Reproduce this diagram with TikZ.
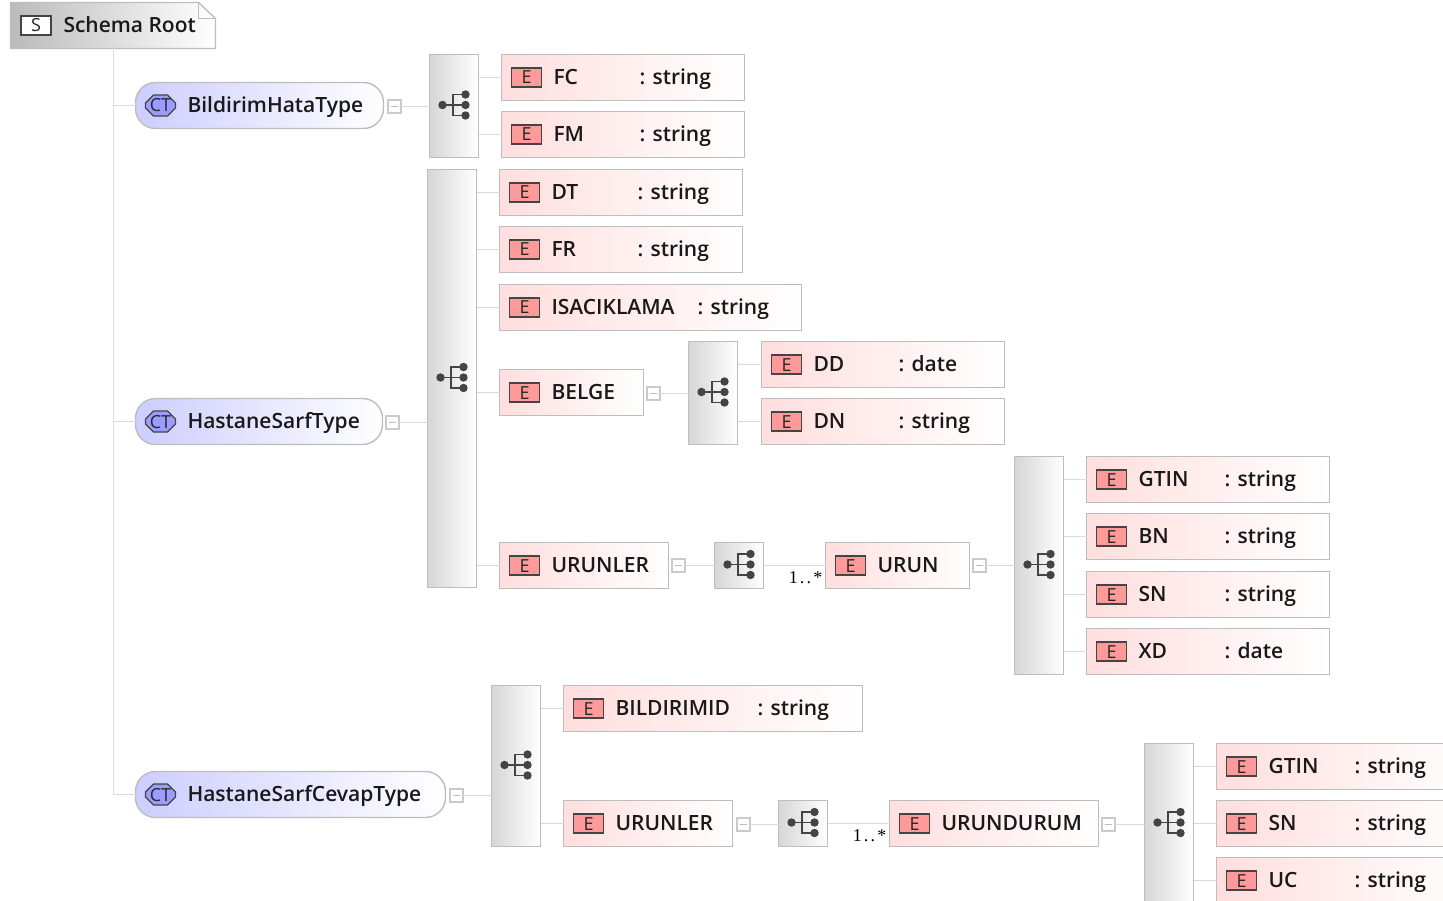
\documentclass[tikz,border=0pt]{standalone}
\usepackage{fontspec}
\setmainfont{Open Sans Semibold}
\usetikzlibrary{shapes.misc}
\definecolor{boxline}{HTML}{BDBDBD}
\definecolor{linkline}{HTML}{DADADA}
\definecolor{elemfill}{HTML}{FFDEDE}
\definecolor{elemicon}{HTML}{FF9A9A}
\definecolor{ctfill}{HTML}{CDCDFF}
\definecolor{cticon}{HTML}{9C9CFF}
\definecolor{seqfill}{HTML}{D6D6D6}
\definecolor{rootfill}{HTML}{BBBBBB}
\definecolor{icondark}{HTML}{444444}
\newfontfamily\multfont[LetterSpace=12]{Liberation Serif}
\newfontfamily\iconfont{Open Sans}
\tikzset{
	txt/.style={inner sep=0, outer sep=0, text=black!90, font=\fontsize{21}{24}\selectfont, text height=14pt, text depth=0pt},
	elembox/.style={anchor=north west, draw=boxline, line width=1.4pt, left color=elemfill, right color=white, minimum height=46pt, inner sep=0, outer sep=0},
	seqbox/.style={anchor=north west, draw=boxline, line width=1.4pt, left color=seqfill, right color=white, minimum width=49pt, inner sep=0, outer sep=0},
	ctbox/.style={anchor=north west, draw=boxline, line width=1.4pt, left color=ctfill, right color=white, minimum height=46pt, inner sep=0, outer sep=0, rounded corners=20pt},
	iconbox/.style={draw=icondark, line width=1.2pt, minimum width=30pt, minimum height=19pt, inner sep=0, text height=13pt, text depth=0pt, text=black!85, font=\fontsize{18}{18}\iconfont},
	eicon/.style={iconbox, fill=elemicon},
	sicon/.style={iconbox, fill=white},
	cicon/.style={iconbox, chamfered rectangle, chamfered rectangle xsep=4pt, chamfered rectangle ysep=4pt, fill=cticon},
	minusbox/.style={draw=boxline!80, line width=1.2pt, fill=white, minimum size=13pt, inner sep=0, outer sep=0, path picture={\draw[boxline, line width=1pt] (path picture bounding box.center) +(-3.5pt,0) -- +(3.5pt,0);}},
	link/.style={draw=linkline, line width=1.3pt},
	mult/.style={inner sep=0, font=\fontsize{18}{18}\multfont},
}
% element box with its icon and name
\newcommand{\elem}[5]{
	\node[elembox, minimum width=#4pt] (#1) at (#2,#3) {};
	\node[eicon] (#1icon) at ([xshift=25pt]#1.west) {E};
	\node[txt, anchor=west] (#1name) at ([xshift=52pt]#1.west) {#5};
}
\newcommand{\elemtype}[3]{
	\node[txt, anchor=west] (#1type) at ([xshift=#2pt]#1.west) {: #3};
}
% sequence compositor with its symbol
\newcommand{\seqnode}[4]{
	\node[seqbox, minimum height=#4pt] (#1) at (#2,#3) {};
	\coordinate (#1sym) at ([yshift=1pt]#1.center);
	\fill[icondark] ([xshift=-11.5pt]#1sym) circle (4.2pt);
	\foreach \dy in {-10.5, 0, 10.5} {
		\fill[icondark] ([xshift=11.5pt, yshift=\dy pt]#1sym) circle (4.2pt);
	}
	\draw[icondark, line width=1.3pt] ([xshift=-11.5pt]#1sym) -- ([xshift=11.5pt]#1sym) ([xshift=11.5pt, yshift=10.5pt]#1sym) -- ([xshift=-1pt, yshift=10.5pt]#1sym) -- ([xshift=-1pt, yshift=-10.5pt]#1sym) -- ([xshift=11.5pt, yshift=-10.5pt]#1sym);
}
\newcommand{\ctnode}[5]{
	\node[ctbox, minimum width=#4pt] (#1) at (#2,#3) {};
	\node[cicon] (#1icon) at ([xshift=25pt]#1.west) {CT};
	\node[txt, anchor=west] (#1name) at ([xshift=52pt]#1.west) {#5};
}
\begin{document}
\begin{tikzpicture}[x=1pt, y=-1pt]
	\clip[use as bounding box] (-0.5, -0.5) rectangle (1442.5, 900.5);

	% root
	\shade[left color=rootfill, right color=white, draw=boxline, line width=1.4pt] (10, 2) -- (198, 2) -- (215, 18) -- (215, 48) -- (10, 48) -- cycle;
	\draw[boxline, line width=1pt] (198, 2) -- (198, 18) -- (215, 18);
	\node[sicon] (rooticon) at (35.5, 25) {S};
	\node[txt, anchor=west] (rootname) at (63, 25) {Schema Root};
	\coordinate (roottop) at (113, 48);

	% complex types
	\ctnode{hata}{135}{82}{248}{BildirimHataType}
	\ctnode{sarf}{135}{398}{247}{HastaneSarfType}
	\ctnode{cevap}{135}{771}{310}{HastaneSarfCevapType}
	\draw[link] (roottop) -- (roottop |- cevap.west) -- (cevap.west);
	\draw[link] (roottop |- hata.west) -- (hata.west);
	\draw[link] (roottop |- sarf.west) -- (sarf.west);

	% compositors
	\seqnode{seqhata}{429}{54}{103}
	\seqnode{seqsarf}{427}{169}{418}
	\seqnode{seqbelge}{688}{341}{103}
	\seqnode{sequrunler}{714}{542}{46}
	\seqnode{sequrun}{1014}{456}{218}
	\seqnode{seqcevap}{491}{685}{161}
	\seqnode{seqdurumlar}{778}{800}{46}
	\seqnode{seqdurum}{1144}{743}{160}

	% elements
	\foreach \nm/\xx/\yy/\ww/\lbl/\off/\tp/\parent in {
		fc/501/54/243/FC/138/string/seqhata,
		fm/501/111/243/FM/138/string/seqhata,
		dt/499/169/243/DT/138/string/seqsarf,
		fr/499/226/243/FR/138/string/seqsarf,
		isaciklama/499/284/302/ISACIKLAMA/198/string/seqsarf,
		dd/761/341/243/DD/137/date/seqbelge,
		dn/761/398/243/DN/137/string/seqbelge,
		gtina/1086/456/243/GTIN/138/string/sequrun,
		bn/1086/513/243/BN/138/string/sequrun,
		sna/1086/571/243/SN/138/string/sequrun,
		xd/1086/628/243/XD/138/date/sequrun,
		bildirimid/563/685/299/BILDIRIMID/194/string/seqcevap,
		gtinb/1216/743/260/GTIN/138/string/seqdurum,
		snb/1216/800/260/SN/138/string/seqdurum,
		uc/1216/857/260/UC/138/string/seqdurum} {
		\elem{\nm}{\xx}{\yy}{\ww}{\lbl}
		\elemtype{\nm}{\off}{\tp}
		\draw[link] (\parent.east |- \nm.west) -- (\nm.west);
	}
	\elem{belge}{499}{369}{144}{BELGE}
	\elem{urunlera}{499}{542}{169}{URUNLER}
	\elem{urun}{825}{542}{144}{URUN}
	\elem{urunlerb}{563}{800}{169}{URUNLER}
	\elem{urundurum}{889}{800}{209}{URUNDURUM}

	% collapse boxes and their links
	\foreach \nm/\xx/\yy/\dst in {
		mhata/394/106/seqhata,
		msarf/392/422/seqsarf,
		mcevap/456/795/seqcevap,
		mbelge/653/393/seqbelge,
		murunlera/678/565/sequrunler,
		murun/979/565/sequrun,
		murunlerb/743/824/seqdurumlar,
		mdurum/1108/824/seqdurum} {
		\node[minusbox] (\nm) at (\xx, \yy) {};
		\draw[link] (\nm.east) -- (\dst.west |- \nm.east);
	}
	\draw[link] (seqsarf.east |- belge.west) -- (belge.west);
	\draw[link] (seqsarf.east |- urunlera.west) -- (urunlera.west);
	\draw[link] (seqcevap.east |- urunlerb.west) -- (urunlerb.west);
	\draw[link] (sequrunler.east) -- (urun.west);
	\draw[link] (seqdurumlar.east) -- (urundurum.west);
	\node[mult, anchor=east] (multurun) at (822, 577) {1..*};
	\node[mult, anchor=east] (multdurum) at (886, 835) {1..*};
\end{tikzpicture}
\end{document}
